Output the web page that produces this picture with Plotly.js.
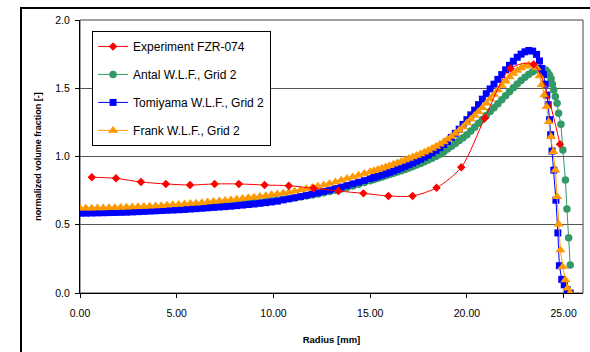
<!DOCTYPE html>
<html>
<head>
<meta charset="utf-8">
<script src="https://cdn.plot.ly/plotly-3.0.1.min.js"></script>
<style>
html,body{margin:0;padding:0;background:#fff;overflow:hidden;}
#wrap{position:relative;width:590px;height:352px;overflow:hidden;}
#chart{position:absolute;left:0;top:0;width:590px;height:352px;}
#frame{position:absolute;left:20px;top:7px;width:640px;height:420px;border-left:2px solid #000;border-top:2px solid #000;pointer-events:none;}
</style>
</head>
<body>
<div id="wrap"><div id="chart"></div><div id="frame"></div></div>
<script>
// ---- Data ----
const seriesNames = ['Experiment FZR-074', 'Antal W.L.F., Grid 2', 'Tomiyama W.L.F., Grid 2', 'Frank W.L.F., Grid 2'];

const expR = [0.61,1.86,3.15,4.44,5.69,6.96,8.21,9.54,10.79,12.07,13.36,14.65,15.94,17.19,18.43,19.71,20.92,22.25,23.45,24.81];
const expV = [0.848,0.840,0.813,0.799,0.791,0.799,0.799,0.791,0.786,0.767,0.747,0.730,0.711,0.711,0.771,0.921,1.280,1.645,1.675,1.089];

// common radial positions of the simulation curves (core region)
const simR = [0,0.3,0.6,0.9,1.2,1.5,1.8,2.1,2.4,2.7,3.0,3.3,3.6,3.9,4.2,4.5,4.8,5.1,5.4,5.7,6.0,6.3,6.6,6.9,7.2,7.5,7.8,8.1,8.4,8.7,9.0,9.3,9.6,9.9,10.2,10.5,10.8,11.1,11.4,11.7,12.0,12.3,12.6,12.9,13.2,13.5,13.8,14.1,14.4,14.7,15.0,
  15.2,15.4,15.6,15.8,16.0,16.2,16.4,16.6,16.8,17.0,17.2,17.4,17.6,17.8,18.0,18.2,18.4,18.6,18.8,19.0,19.2,19.4,19.6,19.8,20.0,20.2,20.4,20.6,20.8,21.0,21.2,21.4,21.6,21.8,22.0,22.2,22.4,22.6,22.8,23.0,23.2,23.4,23.6];

const antalV = [0.597,0.597,0.598,0.599,0.600,0.601,0.602,0.603,0.604,0.606,0.608,0.610,0.612,0.614,0.616,0.618,0.620,0.622,0.624,0.627,0.630,0.633,0.636,0.639,0.642,0.645,0.648,0.651,0.655,0.659,0.663,0.667,0.672,0.676,0.681,0.686,0.692,0.698,0.704,0.711,0.718,0.726,0.734,0.743,0.752,0.762,0.773,0.784,0.796,0.809,0.822,
  0.831,0.840,0.850,0.859,0.868,0.877,0.886,0.895,0.905,0.915,0.926,0.937,0.949,0.961,0.974,0.988,1.002,1.017,1.033,1.055,1.075,1.096,1.117,1.138,1.160,1.187,1.215,1.243,1.271,1.300,1.329,1.358,1.387,1.416,1.445,1.474,1.503,1.531,1.557,1.581,1.602,1.620,1.635];
const antalWallR = [23.8,23.95,24.08,24.18,24.27,24.35,24.42,24.49,24.57,24.66,24.74,24.86,24.96,25.09,25.17,25.26,25.34];
const antalWallV = [1.644,1.642,1.632,1.615,1.595,1.570,1.530,1.487,1.440,1.390,1.316,1.236,1.048,0.828,0.615,0.405,0.205];

const tomiV = [0.585,0.585,0.586,0.587,0.588,0.589,0.590,0.591,0.592,0.594,0.596,0.598,0.600,0.602,0.604,0.606,0.608,0.610,0.612,0.615,0.618,0.621,0.624,0.627,0.630,0.633,0.636,0.640,0.644,0.648,0.652,0.657,0.662,0.667,0.673,0.682,0.690,0.698,0.707,0.716,0.725,0.734,0.744,0.754,0.765,0.776,0.788,0.800,0.812,0.825,0.838,
  0.846,0.855,0.864,0.874,0.884,0.894,0.905,0.916,0.928,0.940,0.953,0.966,0.980,0.995,1.010,1.027,1.045,1.065,1.087,1.110,1.140,1.170,1.200,1.235,1.270,1.305,1.340,1.380,1.420,1.460,1.495,1.530,1.565,1.600,1.635,1.668,1.698,1.727,1.750,1.767,1.777,1.772,1.748];
const tomiWallR = [23.75,23.85,23.95,24.05,24.13,24.2,24.27,24.33,24.4,24.49,24.6,24.7,24.78,24.9,25.03,25.18,25.34];
const tomiWallV = [1.700,1.645,1.600,1.530,1.450,1.380,1.270,1.160,1.040,0.900,0.680,0.440,0.200,0.100,0.060,0.025,0.000];

const frankV = [0.620,0.620,0.621,0.622,0.623,0.624,0.625,0.626,0.628,0.630,0.632,0.634,0.636,0.638,0.640,0.643,0.646,0.649,0.652,0.655,0.658,0.662,0.666,0.670,0.674,0.678,0.682,0.687,0.692,0.697,0.702,0.707,0.713,0.719,0.725,0.731,0.738,0.746,0.754,0.763,0.772,0.782,0.792,0.803,0.814,0.826,0.838,0.850,0.862,0.875,0.888,
  0.896,0.905,0.914,0.923,0.933,0.943,0.953,0.963,0.974,0.985,0.996,1.007,1.019,1.031,1.044,1.058,1.073,1.089,1.107,1.126,1.147,1.169,1.192,1.216,1.245,1.272,1.300,1.328,1.358,1.390,1.422,1.455,1.488,1.520,1.552,1.582,1.608,1.630,1.648,1.661,1.669,1.668,1.648];
const frankWallR = [23.75,23.87,24.0,24.12,24.23,24.35,24.47,24.57,24.66,24.74,24.83,24.95,25.09,25.2,25.34];
const frankWallV = [1.590,1.525,1.450,1.365,1.255,1.145,1.035,0.900,0.706,0.503,0.315,0.193,0.095,0.034,0.000];

const xTickVals = [0,5,10,15,20,25];
const xTickText = ['0.00','5.00','10.00','15.00','20.00','25.00'];
const yTickVals = [0,0.5,1.0,1.5,2.0];
const yTickText = ['0.0','0.5','1.0','1.5','2.0'];

const xTitle = 'Radius [mm]';
const yTitle = 'normalized volume fraction [-]';

// ---- Traces ----
const FONT = 'Liberation Sans, Arial, Helvetica, sans-serif';
function sim(name, r, v, wr, wv, color, symbol, size, rank) {
  return {
    type: 'scatter', mode: 'lines+markers', name: name,
    x: r.concat(wr), y: v.concat(wv),
    line: {color: color, width: 1},
    marker: {color: color, symbol: symbol, size: size, line: {width: 0}},
    legendrank: rank, legendgroup: 'g' + rank
  };
}
const traces = [
  sim(seriesNames[1], simR, antalV, antalWallR, antalWallV, '#339966', 'circle', 7.5, 2),
  sim(seriesNames[2], simR, tomiV, tomiWallR, tomiWallV, '#0000FF', 'square', 7, 3),
  sim(seriesNames[3], simR, frankV, frankWallR, frankWallV, '#FF9900', 'triangle-up', 9, 4),
  {
    type: 'scatter', mode: 'lines+markers', name: seriesNames[0],
    x: expR, y: expV,
    line: {color: '#FF0000', width: 1, shape: 'spline', smoothing: 0.8},
    marker: {color: '#FF0000', symbol: 'diamond', size: 6.5},
    legendrank: 1, legendgroup: 'g1'
  }
];

const layout = {
  width: 590, height: 352,
  margin: {l: 80, r: 7, t: 20, b: 59, pad: 0},
  paper_bgcolor: '#ffffff', plot_bgcolor: '#ffffff',
  font: {family: FONT, size: 11, color: '#000'},
  showlegend: true,
  legend: {
    x: 0.024, y: 0.96, xanchor: 'left', yanchor: 'top',
    bgcolor: '#ffffff', bordercolor: '#000', borderwidth: 1,
    font: {family: FONT, size: 12, color: '#000'},
    tracegroupgap: 9, itemwidth: 30, traceorder: 'grouped',
    entrywidth: 196, entrywidthmode: 'pixels'
  },
  xaxis: {
    range: [0, 26], tickmode: 'array', tickvals: xTickVals, ticktext: xTickText,
    ticks: 'outside', ticklen: 4, tickwidth: 1, tickcolor: '#000',
    showline: true, linecolor: '#000', linewidth: 1,
    showgrid: false, zeroline: false, ticklabelstandoff: 6,
    tickfont: {family: FONT, size: 10.5, color: '#000'},
    title: {text: '<b>' + xTitle + '</b>', font: {family: FONT, size: 9.5, color: '#000'}, standoff: 18}
  },
  yaxis: {
    range: [0, 2], tickmode: 'array', tickvals: yTickVals, ticktext: yTickText,
    ticks: 'outside', ticklen: 4, tickwidth: 1, tickcolor: '#000',
    showline: true, linecolor: '#000', linewidth: 1,
    showgrid: true, gridcolor: '#555', gridwidth: 1, zeroline: false, ticklabelstandoff: 3,
    tickfont: {family: FONT, size: 10.5, color: '#000'},
    title: {text: '<b>' + yTitle + '</b>', font: {family: FONT, size: 9, color: '#000'}, standoff: 12}
  },
  shapes: [
    {type: 'rect', xref: 'paper', yref: 'paper', x0: 0, x1: 1, y0: 0, y1: 1,
     line: {color: '#404040', width: 1}, fillcolor: 'rgba(0,0,0,0)', layer: 'below'}
  ]
};

Plotly.newPlot('chart', traces, layout, {displayModeBar: false, staticPlot: true});
</script>
</body>
</html>
